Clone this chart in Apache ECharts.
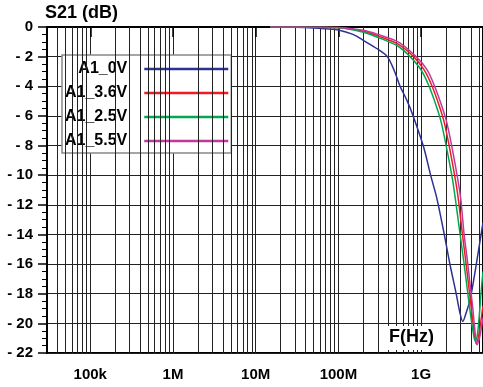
<!DOCTYPE html>
<html>
<head>
<meta charset="utf-8">
<script src="https://cdn.jsdelivr.net/npm/echarts@6/dist/echarts.min.js"></script>
<style>
  html, body { margin: 0; padding: 0; background: #fff; }
  #chart { width: 483px; height: 387px; }
</style>
</head>
<body>
<div id="chart"></div>
<script>
// 曲线数据 (频率 Hz / S21 dB)
const seriesNames = ['A1_0V', 'A1_3.6V', 'A1_2.5V', 'A1_5.5V'];
const seriesColors = ['#2e3192', '#ed1c24', '#00a651', '#c1399b'];

const freq0V = [1.5e7, 3e7, 5e7, 7e7, 1e8, 1.5e8, 2e8, 3e8, 3.9e8, 4.7e8, 5.57e8, 6.8e8, 8.07e8,
  1.07e9, 1.31e9, 1.55e9, 1.91e9, 2.24e9, 2.65e9, 2.95e9, 3.19e9, 3.45e9, 3.91e9, 4.62e9, 5.17e9, 5.6e9];
const s21_0V = [0, -0.02, -0.06, -0.12, -0.2, -0.5, -0.9, -1.5, -2.0, -2.9, -4.0, -5.0, -6.05,
  -8.08, -10.05, -11.56, -14.03, -16.06, -17.97, -19.3, -19.88, -19.4, -18.4, -16.1, -14.4, -13.2];

const freq36V = [1.5e7, 5e7, 1e8, 2e8, 3e8, 5.27e8, 8.11e8, 1.087e9, 1.358e9, 1.651e9, 1.897e9, 2.18e9,
  2.54e9, 2.8e9, 3.16e9, 3.5e9, 3.75e9, 4.03e9, 4.31e9, 4.62e9, 4.89e9, 5.17e9, 5.6e9];
const s21_36V = [0, -0.01, -0.04, -0.28, -0.6, -1.15, -2.0, -2.9, -4.0, -5.3, -6.4, -8.0,
  -10.0, -11.5, -14.0, -16.0, -17.4, -18.9, -20.3, -21.35, -21.0, -20.2, -18.8];

const freq25V = [1.5e7, 5e7, 1e8, 2e8, 3e8, 5.27e8, 7.36e8, 1e9, 1.249e9, 1.518e9, 1.745e9, 2.006e9,
  2.35e9, 2.58e9, 2.96e9, 3.31e9, 3.6e9, 3.91e9, 4.26e9, 4.5e9, 4.75e9, 5.03e9, 5.31e9, 5.6e9];
const s21_25V = [0, -0.01, -0.05, -0.35, -0.7, -1.3, -2.0, -2.9, -4.0, -5.3, -6.4, -8.0,
  -10.0, -11.5, -14.0, -16.0, -17.6, -19.2, -20.6, -21.2, -20.9, -19.6, -17.9, -16.5];

const freq55V = [1.5e7, 5e7, 1e8, 2e8, 3e8, 5.27e8, 8.7e8, 1.182e9, 1.456e9, 1.769e9, 2.034e9, 2.34e9,
  2.72e9, 3.0e9, 3.31e9, 3.67e9, 3.91e9, 4.2e9, 4.44e9, 4.72e9, 4.96e9, 5.24e9, 5.6e9];
const s21_55V = [0, -0.01, -0.03, -0.22, -0.5, -1.0, -2.0, -2.9, -4.0, -5.3, -6.4, -8.0,
  -10.0, -11.5, -14.0, -16.0, -17.4, -18.9, -20.3, -21.45, -21.2, -20.6, -19.6];

// x 轴刻度标签
const xTickLabels = { 5: '100k', 6: '1M', 7: '10M', 8: '100M', 9: '1G' };

const FONT = '"Liberation Sans", Arial, Helvetica, sans-serif';
const GRID_COLOR = '#222';

function zip(xs, ys) {
  return xs.map((x, i) => [x, ys[i]]);
}

// 对数网格的次分割线 (2..9 倍)
const minorGrid = [];
for (let e = 4; e <= 9; e++) {
  for (let m = 2; m <= 9; m++) {
    const f = m * Math.pow(10, e);
    if (f > 3e4 && f < 5.6e9) minorGrid.push({ xAxis: f });
  }
}

const allData = [
  zip(freq0V, s21_0V),
  zip(freq36V, s21_36V),
  zip(freq25V, s21_25V),
  zip(freq55V, s21_55V),
];

const myChart = echarts.init(document.getElementById('chart'), null, { renderer: 'canvas' });

const series = seriesNames.map((name, k) => ({
  name,
  type: 'line',
  data: allData[k],
  showSymbol: false,
  symbol: 'none',
  smooth: 0.3,
  z: 5 + k,
  lineStyle: { color: seriesColors[k], width: 1.5 },
  itemStyle: { color: seriesColors[k] },
}));

// 用一个空系列画次网格线
series.unshift({
  name: 'grid',
  type: 'line',
  data: [],
  z: 1,
  markLine: {
    silent: true,
    symbol: ['none', 'none'],
    label: { show: false },
    lineStyle: { color: GRID_COLOR, width: 1, type: 'solid' },
    data: minorGrid,
  },
});

const boldText = {
  fontFamily: FONT,
  fontWeight: 700,
  color: '#000',
};

myChart.setOption({
  animation: false,
  grid: {
    left: 47,
    top: 27,
    right: 0,
    bottom: 34,
    show: true,
    borderColor: '#000',
    borderWidth: 2,
  },
  legend: {
    data: seriesNames,
    orient: 'vertical',
    align: 'right',
    left: 62,
    top: 55,
    padding: [6, 3, 4, 3],
    itemGap: 8,
    itemWidth: 84,
    itemHeight: 2.5,
    icon: 'rect',
    selectedMode: false,
    backgroundColor: '#fff',
    borderColor: '#888',
    borderWidth: 1.5,
    formatter: '{b|{name}}',
    textStyle: {
      fontSize: 16,
      padding: [0, 12, 0, 0],
      rich: {
        b: Object.assign({ fontSize: 16 }, boldText),
      },
    },
  },
  xAxis: {
    type: 'log',
    logBase: 10,
    min: 3e4,
    max: 5.6e9,
    axisLine: { lineStyle: { color: '#000', width: 2 } },
    axisTick: { show: true, length: 10, lineStyle: { color: '#000', width: 1.5 } },
    splitLine: { show: true, lineStyle: { color: GRID_COLOR, width: 1 } },
    axisLabel: Object.assign({
      margin: 14,
      fontSize: 15,
      showMinLabel: false,
      showMaxLabel: false,
      formatter: (v) => {
        const e = Math.log10(v);
        const r = Math.round(e);
        if (Math.abs(e - r) < 1e-6 && xTickLabels[r]) return xTickLabels[r];
        return '';
      },
    }, boldText),
  },
  yAxis: {
    type: 'value',
    min: -22,
    max: 0,
    interval: 2,
    axisLine: { show: true, lineStyle: { color: '#000', width: 2 } },
    axisTick: { show: true, length: 9, lineStyle: { color: '#000', width: 1.5 } },
    minorTick: { show: true, splitNumber: 4, length: 5, lineStyle: { color: '#000', width: 1 } },
    splitLine: { show: true, lineStyle: { color: GRID_COLOR, width: 1 } },
    axisLabel: Object.assign({
      margin: 14,
      fontSize: 15,
      formatter: (v) => (v < 0 ? '- ' + Math.abs(v) : String(v)),
    }, boldText),
  },
  graphic: [
    {
      type: 'text',
      left: 45,
      top: 4,
      style: {
        text: 'S21 (dB)',
        font: 'bold 18px ' + FONT,
        fill: '#000',
      },
    },
    {
      type: 'text',
      left: 388,
      top: 326,
      z: 100,
      style: {
        text: 'F(Hz)',
        font: 'bold 18px ' + FONT,
        fill: '#000',
        backgroundColor: '#fff',
        padding: [2, 2, 4, 1],
      },
    },
  ],
  series,
});
</script>
</body>
</html>
